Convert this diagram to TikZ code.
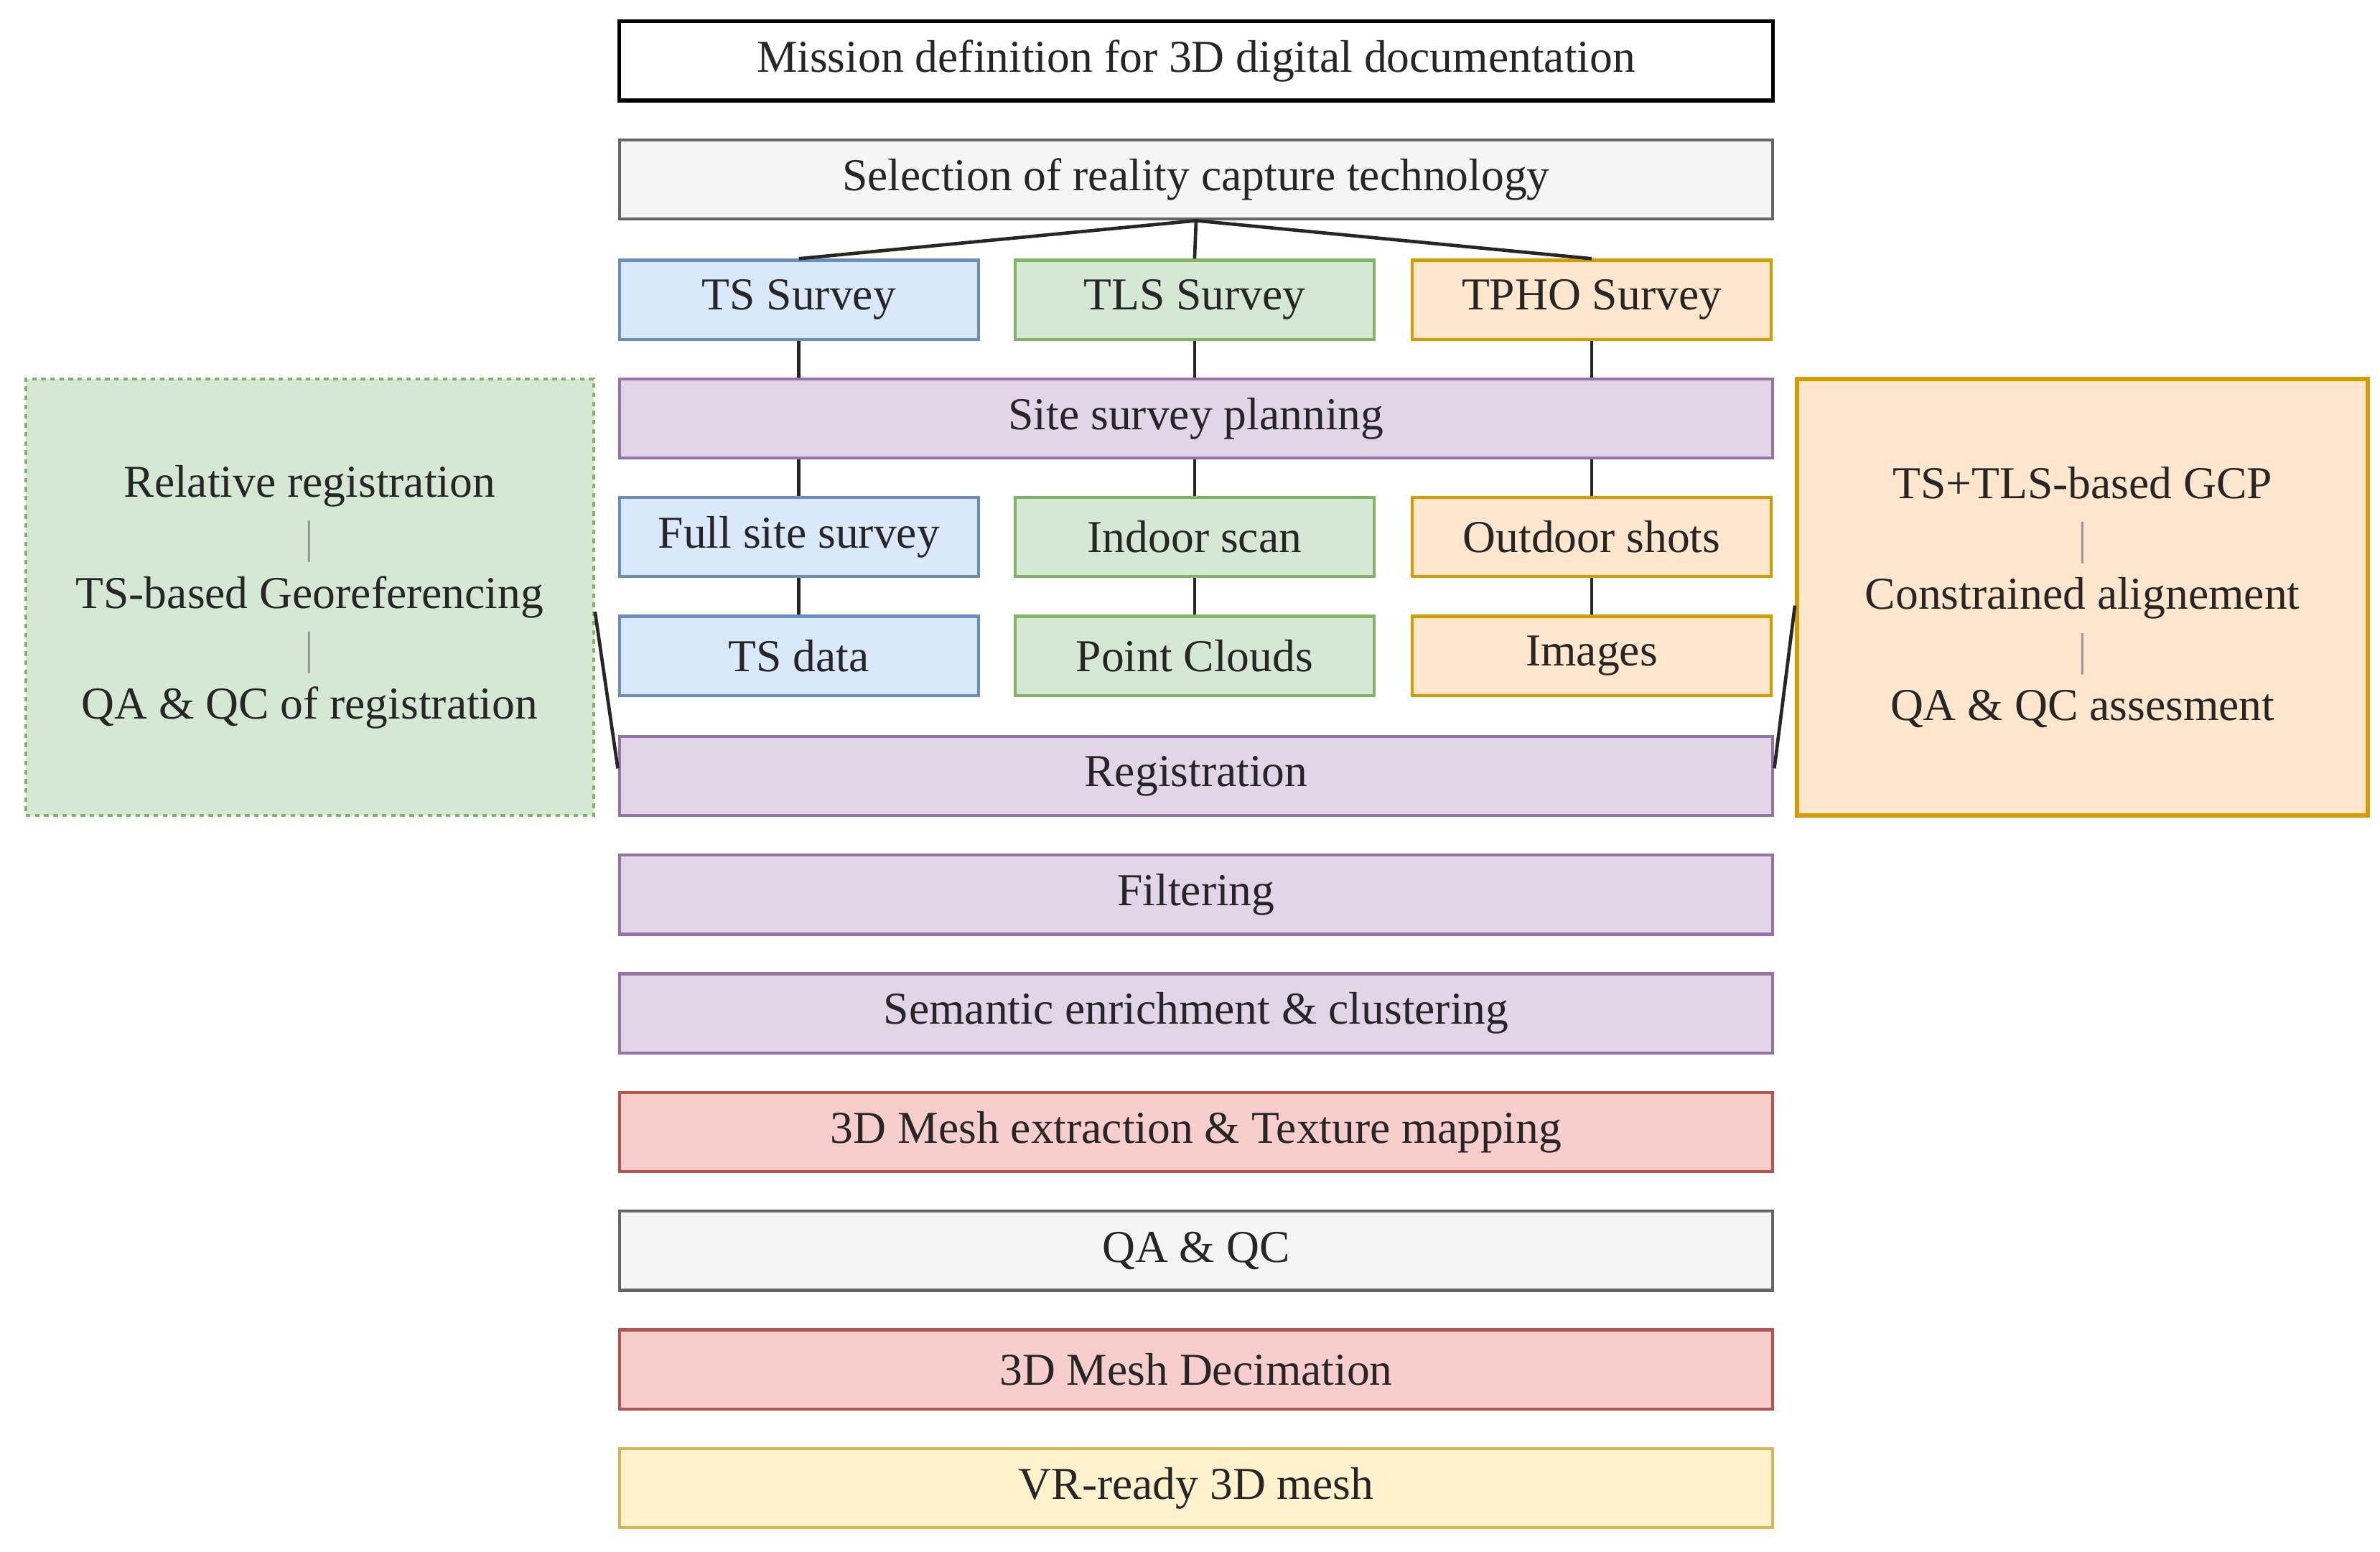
\documentclass[tikz,border=0pt]{standalone}
\usepackage{fontspec}
\setmainfont{Liberation Serif}
\begin{document}
\definecolor{bF}{HTML}{DAE8FC}\definecolor{bD}{HTML}{6C8EBF}
\definecolor{gF}{HTML}{D5E8D4}\definecolor{gD}{HTML}{82B366}
\definecolor{oF}{HTML}{FFE6CC}\definecolor{oD}{HTML}{D79B00}
\definecolor{pF}{HTML}{E1D5E7}\definecolor{pD}{HTML}{9673A6}
\definecolor{rF}{HTML}{F8CECC}\definecolor{rD}{HTML}{B85450}
\definecolor{yF}{HTML}{FFF2CC}\definecolor{yD}{HTML}{D6B656}
\definecolor{sF}{HTML}{F5F5F5}\definecolor{sD}{HTML}{666666}
\begin{tikzpicture}[x=1pt,y=-1pt,
 bx/.style={draw,line width=2pt,minimum height=52pt,inner sep=0pt,font=\fontsize{30}{36.5}\selectfont,text=black!85},
 wide/.style={bx,minimum width=758pt},
 col/.style={bx,minimum width=236pt},
 blue/.style={fill=bF,draw=bD},green/.style={fill=gF,draw=gD},orange/.style={fill=oF,draw=oD},
 purple/.style={fill=pF,draw=pD},red/.style={fill=rF,draw=rD},yel/.style={fill=yF,draw=yD},gray/.style={fill=sF,draw=sD},
 ln/.style={line width=2.2pt,black!85}]
\useasboundingbox (0,0) rectangle (1564,1020);
\fill[white] (0,0) rectangle (1564,1020);
\node[wide,fill=white,draw=black,line width=2.5pt] (m) at (786,40) {Mission definition for 3D digital documentation};
\node[wide,gray] (sel) at (786,118) {Selection of reality capture technology};
\node[col,blue] (ts) at (525,197) {TS Survey};
\node[col,green] (tls) at (785,197) {TLS Survey};
\node[col,orange] (tp) at (1046,197) {TPHO Survey};
\node[wide,purple] (ssp) at (786,275) {Site survey planning};
\node[col,blue] (fs) at (525,353) {Full site survey};
\node[col,green] (is) at (785,353) {Indoor scan};
\node[col,orange] (os) at (1046,353) {Outdoor shots};
\node[col,blue] (td) at (525,431) {TS data};
\node[col,green] (pc) at (785,431) {Point Clouds};
\node[col,orange] (im) at (1046,431) {Images};
\node[wide,purple] (reg) at (786,510) {Registration};
\node[wide,purple] (fil) at (786,588) {Filtering};
\node[wide,purple] (sem) at (786,666) {Semantic enrichment \& clustering};
\node[wide,red] (mex) at (786,744) {3D Mesh extraction \& Texture mapping};
\node[wide,gray] (qa) at (786,822) {QA \& QC};
\node[wide,red] (dec) at (786,900) {3D Mesh Decimation};
\node[wide,yel] (vr) at (786,978) {VR-ready 3D mesh};
\node[bx,fill=gF,draw=gD,dashed,minimum width=373pt,minimum height=287pt,align=center] (lb) at (203.5,392.5)
 {Relative registration\\{\color{black!40}|}\\TS-based Georeferencing\\{\color{black!40}|}\\QA \& QC of registration};
\node[bx,fill=oF,draw=oD,line width=3pt,minimum width=375pt,minimum height=287pt,align=center] (rb) at (1368.5,392.5)
 {TS+TLS-based GCP\\{\color{black!40}|}\\Constrained alignement\\{\color{black!40}|}\\QA \& QC assesment};
\draw[ln] (sel.south) -- (ts.north); \draw[ln] (sel.south) -- (tls.north); \draw[ln] (sel.south) -- (tp.north);
\foreach \a/\b in {ts/fs,tls/is,tp/os}{\draw[ln] (\a.south) -- (\b.north|-ssp.north); \draw[ln] (\b.north|-ssp.south) -- (\b.north);}
\draw[ln] (fs) -- (td); \draw[ln] (is) -- (pc); \draw[ln] (os) -- (im);
\coordinate (la) at (lb.east|-0,402); \coordinate (ra) at (rb.west|-0,398);
\draw[ln] (la) -- (reg.west|-0,505); \draw[ln] (ra) -- (reg.east|-0,505);
\end{tikzpicture}
\end{document}
